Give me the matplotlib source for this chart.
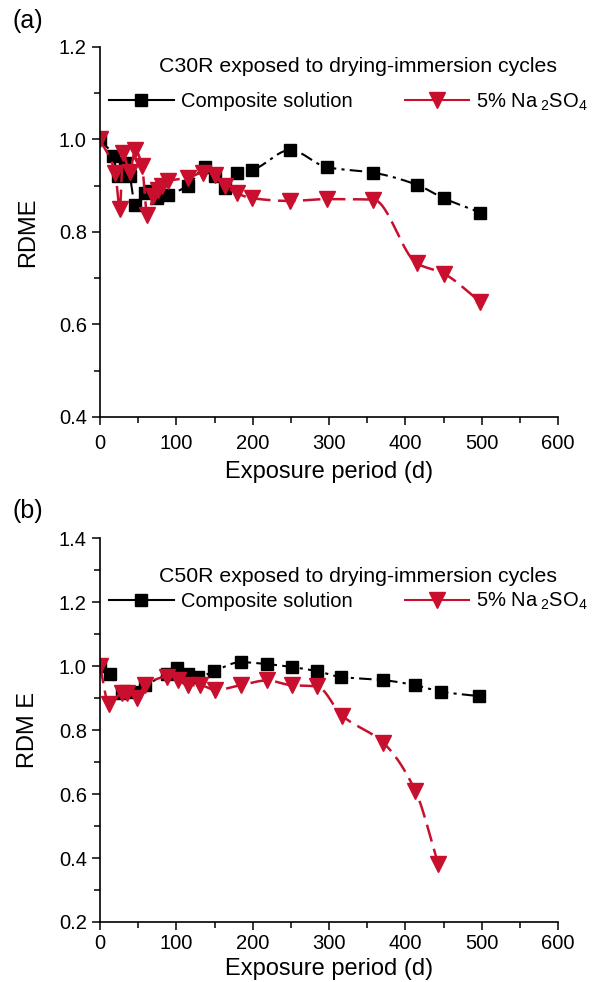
import numpy as np
import matplotlib
matplotlib.use("Agg")
from matplotlib import pyplot as plt
from matplotlib.lines import Line2D
from matplotlib.ticker import MultipleLocator, FormatStrFormatter

plt.rcParams['font.family'] = ['Liberation Sans', 'DejaVu Sans']
plt.rcParams['mathtext.fontset'] = 'custom'
plt.rcParams['mathtext.rm'] = 'Liberation Sans'
plt.rcParams['mathtext.it'] = 'Liberation Sans'

RED = '#c8102e'

# (a) C30R
a_comp_days = [0, 17, 24, 33, 39, 46, 59, 66, 75, 89, 115, 138, 151, 164, 179, 199,
               249, 297, 358, 415, 450, 498]
a_comp_vals = [1.0, 0.965, 0.921, 0.95, 0.921, 0.858, 0.884, 0.888, 0.873, 0.88, 0.90,
               0.94, 0.92, 0.895, 0.928, 0.934, 0.977, 0.94, 0.928, 0.902, 0.873, 0.842]
a_red_days = [0, 20, 26, 30, 39, 46, 55, 62, 70, 76, 81, 89, 115, 135, 151, 164, 179,
              199, 249, 297, 358, 415, 450, 498]
a_red_vals = [1.0, 0.927, 0.85, 0.97, 0.93, 0.977, 0.943, 0.836, 0.877, 0.89, 0.9, 0.91,
              0.917, 0.928, 0.923, 0.9, 0.884, 0.873, 0.867, 0.871, 0.87, 0.732, 0.71, 0.649]

# (b) C50R
b_comp_days = [0, 13, 29, 46, 59, 88, 101, 115, 128, 149, 184, 219, 251, 284, 315,
               371, 413, 446, 496]
b_comp_vals = [1.0, 0.975, 0.915, 0.92, 0.94, 0.975, 0.995, 0.975, 0.965, 0.984, 1.012,
               1.006, 0.997, 0.984, 0.966, 0.956, 0.94, 0.92, 0.906]
b_red_days = [0, 12, 29, 35, 48, 59, 88, 102, 115, 131, 151, 184, 219, 251, 284, 317,
              371, 413, 443]
b_red_vals = [1.0, 0.88, 0.916, 0.916, 0.90, 0.94, 0.966, 0.956, 0.94, 0.94, 0.925,
              0.94, 0.955, 0.94, 0.937, 0.845, 0.76, 0.61, 0.38]


def smooth(x, y, n=20):
    # cubic hermite through the points, just for a smooth connecting curve
    x = np.asarray(x, float)
    y = np.asarray(y, float)
    h = np.diff(x)
    d = np.diff(y) / h
    m = np.zeros_like(y)
    m[0], m[-1] = d[0], d[-1]
    for i in range(1, len(y) - 1):
        if d[i - 1] * d[i] > 0:
            w1 = 2 * h[i] + h[i - 1]
            w2 = h[i] + 2 * h[i - 1]
            m[i] = (w1 + w2) / (w1 / d[i - 1] + w2 / d[i])
    xs, ys = [], []
    for i in range(len(x) - 1):
        t = np.linspace(0, 1, n, endpoint=False)
        h00 = 2 * t**3 - 3 * t**2 + 1
        h10 = t**3 - 2 * t**2 + t
        h01 = -2 * t**3 + 3 * t**2
        h11 = t**3 - t**2
        xs.append(x[i] + t * h[i])
        ys.append(h00 * y[i] + h10 * h[i] * m[i] + h01 * y[i + 1] + h11 * h[i] * m[i + 1])
    xs.append([x[-1]])
    ys.append([y[-1]])
    return np.concatenate(xs), np.concatenate(ys)


def panel(ax, cd, cv, rd, rv, ylim, title, tag, ylab, title_y, leg_y, xpad, xlpad):
    sx, sy = smooth(cd, cv)
    ax.plot(sx, sy, color='black', lw=1.5, dashes=(6, 2.5, 1.5, 2.5))
    ax.plot(cd, cv, ls='none', marker='s', ms=8.5, color='black')
    sx, sy = smooth(rd, rv)
    ax.plot(sx, sy, color=RED, lw=1.8, dashes=(7, 3))
    ax.plot(rd, rv, ls='none', marker='v', ms=11.5, color=RED)

    ax.set_xlim(0, 600)
    ax.set_ylim(*ylim)
    ax.xaxis.set_major_locator(MultipleLocator(100))
    ax.xaxis.set_minor_locator(MultipleLocator(50))
    ax.yaxis.set_major_locator(MultipleLocator(0.2))
    ax.yaxis.set_minor_locator(MultipleLocator(0.1))
    ax.yaxis.set_major_formatter(FormatStrFormatter('%.1f'))
    for s in ['top', 'right']:
        ax.spines[s].set_visible(False)
    ax.spines['left'].set_linewidth(1.2)
    ax.spines['bottom'].set_linewidth(1.2)
    ax.tick_params(which='major', direction='out', length=6, width=1.1, labelsize=14.5)
    ax.tick_params(which='minor', direction='out', length=4, width=1.1)
    ax.tick_params(axis='x', which='major', pad=xpad)
    ax.set_xlabel('Exposure period (d)', fontsize=17, labelpad=xlpad)
    ax.set_ylabel(ylab, fontsize=17, labelpad=14)

    ax.text(0.563, title_y, title, transform=ax.transAxes, ha='center', va='center',
            fontsize=15.3)
    h1 = Line2D([], [], color='black', lw=1.5, marker='s', ms=8.5)
    h2 = Line2D([], [], color=RED, lw=1.5, marker='v', ms=11.5)
    ax.legend([h1, h2], ['Composite solution', '5% Na$_{\\ 2}$SO$_{4}$'], ncol=2,
              frameon=False, fontsize=14.5, loc='center left',
              bbox_to_anchor=(0.02, leg_y), handlelength=3.2, handletextpad=0.35,
              columnspacing=2.6, borderaxespad=0, borderpad=0)
    ax.text(-0.192, 1.07, tag, transform=ax.transAxes, fontsize=18, ha='left',
            va='center')


fig = plt.figure(figsize=(6.15, 9.82), dpi=100)
ax1 = fig.add_axes([0.1626, 0.5754, 0.745, 0.3768])
ax2 = fig.add_axes([0.1626, 0.0611, 0.745, 0.391])

panel(ax1, a_comp_days, a_comp_vals, a_red_days, a_red_vals, (0.4, 1.2),
      'C30R exposed to drying-immersion cycles', '(a)', 'RDME', 0.946, 0.851, 6, 6)
panel(ax2, b_comp_days, b_comp_vals, b_red_days, b_red_vals, (0.2, 1.4),
      'C50R exposed to drying-immersion cycles', '(b)', 'RDM E', 0.9, 0.835, 3, 3)

plt.savefig('out.png', dpi=100)
